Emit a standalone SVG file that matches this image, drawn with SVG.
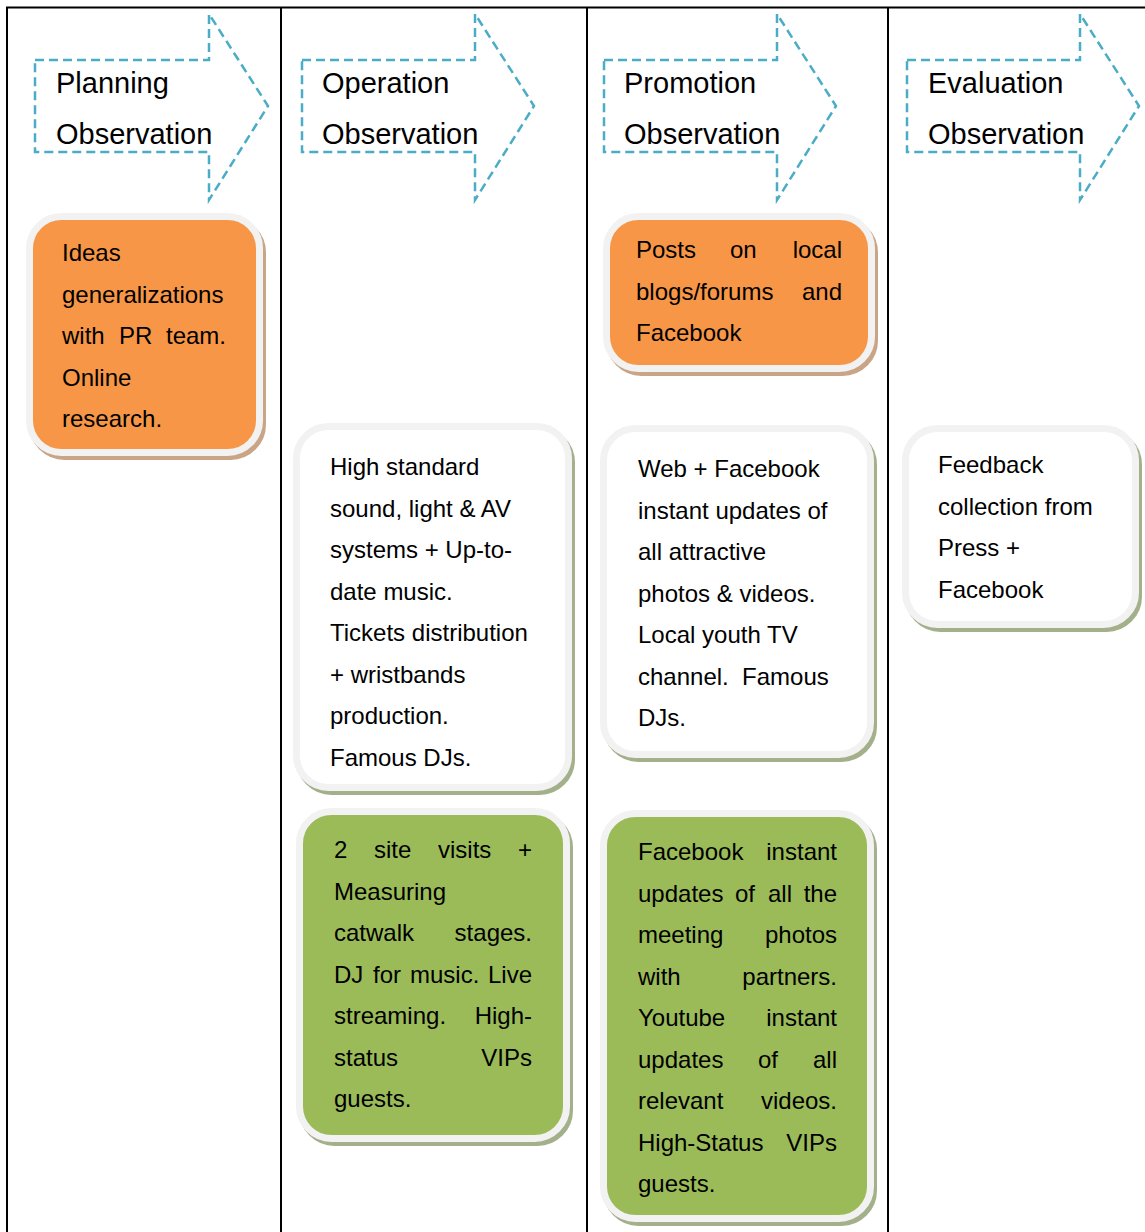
<svg xmlns="http://www.w3.org/2000/svg" width="1145" height="1232" viewBox="0 0 1145 1232">
<style>
text{font-family:"Liberation Sans",Arial,sans-serif;fill:#000}
.h{font-size:29px}
.t{font-size:24px}
.e{text-anchor:end}
.arrow{fill:none;stroke:#4bacc6;stroke-width:2.5;stroke-dasharray:9 5}
.grid{stroke:#000;stroke-width:2;fill:none}
.box{stroke:#f2f2f2;stroke-width:7}
.orange{fill:#f79646}
.green{fill:#9bbb59}
.white{fill:#ffffff}
.shO{fill:#c9a586;stroke:#c9a586;stroke-width:7}
.shG{fill:#a3b08a;stroke:#a3b08a;stroke-width:7}
</style>
<rect width="1145" height="1232" fill="#fff"/>
<g id="table" class="grid">
<line x1="6" y1="7.5" x2="1145" y2="7.5"/>
<line x1="7" y1="7" x2="7" y2="1232"/>
<line x1="281" y1="7" x2="281" y2="1232"/>
<line x1="587" y1="7" x2="587" y2="1232"/>
<line x1="888" y1="7" x2="888" y2="1232"/>
</g>
<g id="header-planning">
<path class="arrow" d="M35,60 H209 V14 L268,106 L209,200 V152 H35 Z"/>
<text class="h" x="56" y="93">Planning</text>
<text class="h" x="56" y="144">Observation</text>
</g>
<g id="header-operation">
<path class="arrow" d="M302,60 H475 V14 L534,106 L475,200 V152 H302 Z"/>
<text class="h" x="322" y="93">Operation</text>
<text class="h" x="322" y="144">Observation</text>
</g>
<g id="header-promotion">
<path class="arrow" d="M604,60 H777 V14 L836,106 L777,200 V152 H604 Z"/>
<text class="h" x="624" y="93">Promotion</text>
<text class="h" x="624" y="144">Observation</text>
</g>
<g id="header-evaluation">
<path class="arrow" d="M907,60 H1080 V14 L1139,106 L1080,200 V152 H907 Z"/>
<text class="h" x="928" y="93">Evaluation</text>
<text class="h" x="928" y="144">Observation</text>
</g>
<g id="planning-ideas">
<rect class="shO" x="32.5" y="220.5" width="230" height="236" rx="32"/>
<rect class="box orange" x="29.5" y="216.5" width="230" height="236" rx="32"/>
<text class="t" x="62" y="261">Ideas</text>
<text class="t" x="62" y="302.5">generalizations</text>
<text class="t" x="62" y="344">with</text><text class="t" x="119" y="344">PR</text><text class="t e" x="226" y="344">team.</text>
<text class="t" x="62" y="385.5">Online</text>
<text class="t" x="62" y="427">research.</text>
</g>
<g id="operation-systems">
<rect class="shG" x="299.5" y="430.5" width="272" height="361" rx="32"/>
<rect class="box white" x="296.5" y="426.5" width="272" height="361" rx="32"/>
<text class="t" x="330" y="475">High standard</text>
<text class="t" x="330" y="516.5">sound, light &amp; AV</text>
<text class="t" x="330" y="558">systems + Up-to-</text>
<text class="t" x="330" y="599.5">date music.</text>
<text class="t" x="330" y="641">Tickets distribution</text>
<text class="t" x="330" y="682.5">+ wristbands</text>
<text class="t" x="330" y="724">production.</text>
<text class="t" x="330" y="765.5">Famous DJs.</text>
</g>
<g id="operation-visits">
<rect class="shG" x="302.5" y="815.5" width="267" height="327" rx="32"/>
<rect class="box green" x="299.5" y="811.5" width="267" height="327" rx="32"/>
<text class="t" x="334" y="858">2</text><text class="t" x="374" y="858">site</text><text class="t" x="438" y="858">visits</text><text class="t e" x="532" y="858">+</text>
<text class="t" x="334" y="899.5">Measuring</text>
<text class="t" x="334" y="941">catwalk</text><text class="t e" x="532" y="941">stages.</text>
<text class="t" x="334" y="982.5">DJ</text><text class="t" x="373" y="982.5">for</text><text class="t" x="410" y="982.5">music.</text><text class="t e" x="532" y="982.5">Live</text>
<text class="t" x="334" y="1024">streaming.</text><text class="t e" x="532" y="1024">High-</text>
<text class="t" x="334" y="1065.5">status</text><text class="t e" x="532" y="1065.5">VIPs</text>
<text class="t" x="334" y="1107">guests.</text>
</g>
<g id="promotion-posts">
<rect class="shO" x="609.5" y="220.5" width="265" height="152" rx="32"/>
<rect class="box orange" x="606.5" y="216.5" width="265" height="152" rx="32"/>
<text class="t" x="636" y="258">Posts</text><text class="t" x="730" y="258">on</text><text class="t e" x="842" y="258">local</text>
<text class="t" x="636" y="300">blogs/forums</text><text class="t e" x="842" y="300">and</text>
<text class="t" x="636" y="341">Facebook</text>
</g>
<g id="promotion-web">
<rect class="shG" x="606.5" y="432.5" width="267" height="326" rx="32"/>
<rect class="box white" x="603.5" y="428.5" width="267" height="326" rx="32"/>
<text class="t" x="638" y="477">Web + Facebook</text>
<text class="t" x="638" y="518.5">instant updates of</text>
<text class="t" x="638" y="560">all attractive</text>
<text class="t" x="638" y="601.5">photos &amp; videos.</text>
<text class="t" x="638" y="643">Local youth TV</text>
<text class="t" x="638" y="684.5" xml:space="preserve">channel.  Famous</text>
<text class="t" x="638" y="726">DJs.</text>
</g>
<g id="promotion-facebook">
<rect class="shG" x="606.5" y="817.5" width="267" height="405" rx="32"/>
<rect class="box green" x="603.5" y="813.5" width="267" height="405" rx="32"/>
<text class="t" x="638" y="860">Facebook</text><text class="t e" x="837" y="860">instant</text>
<text class="t" x="638" y="901.5">updates</text><text class="t" x="735" y="901.5">of</text><text class="t" x="768" y="901.5">all</text><text class="t e" x="837" y="901.5">the</text>
<text class="t" x="638" y="943">meeting</text><text class="t e" x="837" y="943">photos</text>
<text class="t" x="638" y="984.5">with</text><text class="t e" x="837" y="984.5">partners.</text>
<text class="t" x="638" y="1026">Youtube</text><text class="t e" x="837" y="1026">instant</text>
<text class="t" x="638" y="1067.5">updates</text><text class="t" x="758" y="1067.5">of</text><text class="t e" x="837" y="1067.5">all</text>
<text class="t" x="638" y="1109">relevant</text><text class="t e" x="837" y="1109">videos.</text>
<text class="t" x="638" y="1150.5">High-Status</text><text class="t e" x="837" y="1150.5">VIPs</text>
<text class="t" x="638" y="1192">guests.</text>
</g>
<g id="evaluation-feedback">
<rect class="shG" x="908.5" y="432.5" width="230" height="196" rx="32"/>
<rect class="box white" x="905.5" y="428.5" width="230" height="196" rx="32"/>
<text class="t" x="938" y="473">Feedback</text>
<text class="t" x="938" y="514.5">collection from</text>
<text class="t" x="938" y="556">Press +</text>
<text class="t" x="938" y="597.5">Facebook</text>
</g>
<g id="connectors"></g>
</svg>
